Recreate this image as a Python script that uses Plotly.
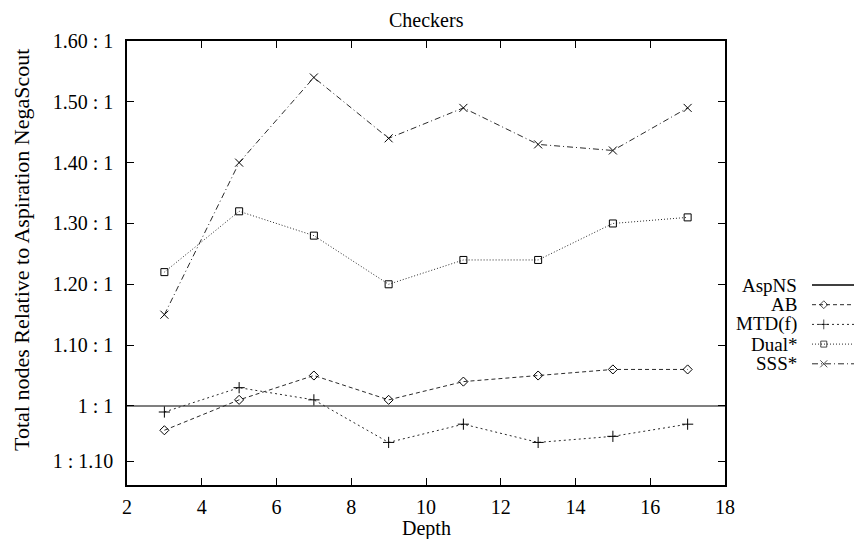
import plotly.graph_objects as go

# ---------------- data ----------------
depths = [3, 5, 7, 9, 11, 13, 15, 17]
aspns_ratio = 1.0
ab_ratio = [0.96, 1.01, 1.05, 1.01, 1.04, 1.05, 1.06, 1.06]
mtdf_ratio = [0.99, 1.03, 1.01, 0.94, 0.97, 0.94, 0.95, 0.97]
dual_ratio = [1.22, 1.32, 1.28, 1.20, 1.24, 1.24, 1.30, 1.31]
sss_ratio = [1.15, 1.40, 1.54, 1.44, 1.49, 1.43, 1.42, 1.49]

series_names = ["AspNS", "AB", "MTD(f)", "Dual*", "SSS*"]
y_tick_vals = [1 / 1.10, 1.0, 1.10, 1.20, 1.30, 1.40, 1.50, 1.60]
y_tick_text = ["1 : 1.10", "1 : 1", "1.10 : 1", "1.20 : 1", "1.30 : 1",
               "1.40 : 1", "1.50 : 1", "1.60 : 1"]
x_tick_vals = [2, 4, 6, 8, 10, 12, 14, 16, 18]

# ---------------- layout constants ----------------
W, H = 854, 539
L_PX, R_PX, T_PX, B_PX = 127, 725, 41, 485
FONT = "Liberation Serif, Times New Roman, Times, serif"
FS = 20
KEY_FS = 19
LINE_COL = "#2a2a2a"

styles = {
    "AspNS": dict(dash="solid", symbol=None),
    "AB": dict(dash="4px,3px", symbol="diamond-open"),
    "MTD(f)": dict(dash="2px,3px", symbol="cross-thin-open"),
    "Dual*": dict(dash="1px,2px", symbol="square-open"),
    "SSS*": dict(dash="6px,3px,1px,3px", symbol="x-thin-open"),
}
marker_sizes = {"AB": 7, "MTD(f)": 8, "Dual*": 7, "SSS*": 8}

fig = go.Figure()

for name, vals in [("AB", ab_ratio), ("MTD(f)", mtdf_ratio),
                   ("Dual*", dual_ratio), ("SSS*", sss_ratio)]:
    st = styles[name]
    fig.add_trace(go.Scatter(
        x=depths, y=vals, mode="lines+markers", name=name,
        line=dict(color=LINE_COL, width=1, dash=st["dash"]),
        marker=dict(symbol=st["symbol"], size=marker_sizes[name], color="black",
                    line=dict(color="black", width=1)),
        showlegend=False, xaxis="x", yaxis="y"))

# AspNS reference line (1 : 1) across the whole axis
fig.add_hline(y=aspns_ratio, line=dict(color="#555555", width=1.5), layer="below")

# ---------------- gnuplot-style key (text right, sample left) ----------------
key_text_right_px = 798
key_first_row_px = 285
key_row_step_px = 19.7
sample_x = [0.0, 0.28, 1.0]
for i, name in enumerate(series_names):
    ypx = key_first_row_px + i * key_row_step_px
    yp = (B_PX - ypx) / (B_PX - T_PX)
    fig.add_annotation(x=key_text_right_px / W, y=yp, xref="paper", yref="paper",
                       text=name, showarrow=False, xanchor="right", yanchor="middle",
                       borderpad=0,
                       font=dict(family=FONT, size=KEY_FS, color="black"))
    st = styles[name]
    if st["symbol"] is None:
        fig.add_trace(go.Scatter(x=[0, 1], y=[yp, yp], mode="lines",
                                 line=dict(color="black", width=1.3),
                                 showlegend=False, hoverinfo="skip",
                                 xaxis="x2", yaxis="y2"))
    else:
        fig.add_trace(go.Scatter(x=sample_x, y=[yp] * 3, mode="lines+markers",
                                 line=dict(color=LINE_COL, width=1, dash=st["dash"]),
                                 marker=dict(symbol=st["symbol"],
                                             size=[0, marker_sizes[name] - 1, 0],
                                             color="black",
                                             line=dict(color="black", width=1)),
                                 showlegend=False, hoverinfo="skip",
                                 xaxis="x2", yaxis="y2"))

# titles
fig.add_annotation(x=(L_PX + R_PX) / 2 / W, y=(B_PX - 20) / (B_PX - T_PX),
                   xref="paper", yref="paper", text="Checkers", showarrow=False,
                   xanchor="center", yanchor="middle",
                   font=dict(family=FONT, size=FS, color="black"))
fig.add_annotation(x=(L_PX + R_PX) / 2 / W, y=(B_PX - 528) / (B_PX - T_PX),
                   xref="paper", yref="paper", text="Depth", showarrow=False,
                   xanchor="center", yanchor="middle", borderpad=0,
                   font=dict(family=FONT, size=FS, color="black"))
fig.add_annotation(x=22 / W, y=(B_PX - 250) / (B_PX - T_PX),
                   xref="paper", yref="paper",
                   text="Total nodes Relative to Aspiration NegaScout",
                   showarrow=False, textangle=-90, xanchor="center", yanchor="middle",
                   font=dict(family=FONT, size=22, color="black"))

axis_common = dict(showgrid=False, zeroline=False, showline=True, linecolor="black",
                   linewidth=1.5, mirror="ticks", ticks="inside", ticklen=7,
                   tickcolor="black", tickwidth=1,
                   tickfont=dict(family=FONT, size=FS, color="black"))

fig.update_layout(
    width=W, height=H,
    margin=dict(l=0, r=0, t=T_PX, b=H - B_PX, autoexpand=False),
    paper_bgcolor="white", plot_bgcolor="white",
    font=dict(family=FONT, size=FS, color="black"),
    xaxis=dict(domain=[L_PX / W, R_PX / W], range=[2, 18], tickmode="array",
               tickvals=x_tick_vals, ticklabelstandoff=3, **axis_common),
    yaxis=dict(range=[0.87, 1.60], tickmode="array", tickvals=y_tick_vals,
               ticktext=y_tick_text, ticklabelstandoff=8, **axis_common),
    xaxis2=dict(domain=[812 / W, 1.0], range=[0, 1], visible=False,
                anchor="y2", fixedrange=True),
    yaxis2=dict(domain=[0, 1], range=[0, 1], visible=False, anchor="x2",
                fixedrange=True),
    showlegend=False,
)

fig.write_html("out.html",
               config={"displayModeBar": False},
               post_script="document.body.style.margin='0';"
                           "document.body.style.padding='0';")
